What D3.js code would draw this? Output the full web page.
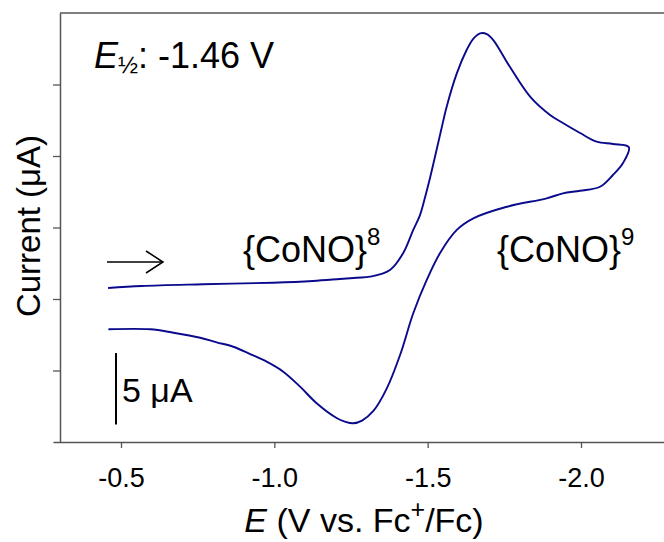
<!DOCTYPE html>
<html>
<head>
<meta charset="utf-8">
<script src="https://cdn.jsdelivr.net/npm/d3@7"></script>
<style>
  body { margin: 0; background: #fff; }
  svg { display: block; font-family: "Liberation Sans", Arial, Helvetica, sans-serif; }
</style>
</head>
<body>
<svg id="cv" width="664" height="542"></svg>
<script>
// forward scan, -0.46 V -> -2.16 V (V vs Fc+/Fc, current in uA)
const forwardE = [-0.458, -0.568, -0.767, -0.996, -1.126, -1.214, -1.269, -1.312, -1.377, -1.420,
    -1.453, -1.475, -1.490, -1.506, -1.529, -1.544, -1.562, -1.595, -1.627, -1.648, -1.671,
    -1.693, -1.714, -1.768, -1.834, -1.899, -1.941, -1.997, -2.051, -2.104, -2.156];
const forwardI = [0.77, 0.91, 1.03, 1.14, 1.26, 1.40, 1.49, 1.56, 2.03, 3.20,
    4.83, 5.87, 6.99, 8.32, 10.42, 11.82, 13.45, 15.78, 17.41, 18.18, 18.58,
    18.53, 18.11, 16.24, 14.15, 12.87, 12.31, 11.61, 11.00, 10.84, 10.61];
// reverse scan back to -0.46 V
const reverseE = [-2.137, -2.104, -2.062, -1.997, -1.941, -1.888, -1.758, -1.649, -1.595, -1.540,
    -1.497, -1.453, -1.410, -1.366, -1.323, -1.286, -1.257, -1.230, -1.203, -1.138,
    -1.084, -1.029, -0.975, -0.921, -0.866, -0.812, -0.758, -0.671, -0.595, -0.459];
const reverseI = [9.51, 8.67, 7.85, 7.57, 7.39, 7.04, 6.45, 5.64, 4.83, 3.20,
    1.33, -1.00, -3.92, -6.29, -7.83, -8.50, -8.69, -8.57, -8.32, -7.29,
    -6.13, -5.08, -4.38, -3.85, -3.34, -3.03, -2.71, -2.36, -2.12, -2.12];

const xTicks = [-0.5, -1.0, -1.5, -2.0];
const yTicks = [-5, 0, 5, 10, 15];

const svg = d3.select("#cv");
const font = "\"Liberation Sans\", Arial, Helvetica, sans-serif";

// potential axis runs to more negative values on the right
let x = d3.scaleLinear().domain([-0.5, -2.0]).range([121, 581]);
x = x.copy().domain([x.invert(53), x.invert(720)]).range([53, 720]);
const y = d3.scaleLinear().domain([-10, 20]).range([442, 13]);
const left = 60;

const axisColor = "#555";

// frame: top line
svg.append("line")
    .attr("x1", left).attr("x2", 720)
    .attr("y1", y(20)).attr("y2", y(20))
    .attr("stroke", axisColor).attr("stroke-width", 1.5);

const gx = svg.append("g")
    .attr("transform", "translate(0," + y(-10) + ")")
    .call(d3.axisBottom(x).tickValues(xTicks).tickSize(6).tickSizeOuter(0)
        .tickFormat(d => d.toFixed(1)));
gx.select(".domain").attr("stroke", axisColor).attr("stroke-width", 1.5);
gx.selectAll(".tick line").attr("stroke", axisColor).attr("stroke-width", 1.3);
gx.selectAll(".tick text")
    .attr("fill", "#000").attr("font-size", 27).attr("font-family", font)
    .attr("y", 45).attr("dy", 0);

const gy = svg.append("g")
    .attr("transform", "translate(" + left + ",0)")
    .call(d3.axisLeft(y).tickValues(yTicks).tickSize(7).tickSizeOuter(0).tickFormat(""));
gy.select(".domain").attr("stroke", axisColor).attr("stroke-width", 1.5);
gy.selectAll(".tick line").attr("stroke", axisColor).attr("stroke-width", 1.3);

// the voltammogram
const pts = forwardE.map((e, i) => [e, forwardI[i]])
    .concat(reverseE.map((e, i) => [e, reverseI[i]]));
const line = d3.line()
    .x(d => x(d[0]))
    .y(d => y(d[1]))
    .curve(d3.curveCatmullRom.alpha(0.5));
svg.append("path")
    .datum(pts)
    .attr("d", line)
    .attr("fill", "none")
    .attr("stroke", "#0a0a8c")
    .attr("stroke-width", 1.9)
    .attr("stroke-linejoin", "round");

// axis titles
svg.append("text")
    .attr("transform", "translate(40,226) rotate(-90)")
    .attr("text-anchor", "middle")
    .attr("font-size", 33)
    .text("Current (\u03bcA)");

const xl = svg.append("text")
    .attr("x", 364).attr("y", 532)
    .attr("text-anchor", "middle")
    .attr("font-size", 34);
xl.append("tspan").attr("font-style", "italic").text("E");
xl.append("tspan").text(" (V vs. Fc");
xl.append("tspan").attr("font-size", 25).attr("dy", -14).text("+");
xl.append("tspan").attr("dy", 14).text("/Fc)");

// half-wave potential
const eh = svg.append("text")
    .attr("x", 94).attr("y", 68)
    .attr("font-size", 36);
eh.append("tspan").attr("font-style", "italic").text("E");
eh.append("tspan").attr("font-size", 24).attr("dy", 5).text("\u00bd");
eh.append("tspan").attr("dy", -5).text(": -1.46 V");

// oxidation state labels
function label(xp, yp, sup) {
    const t = svg.append("text").attr("x", xp).attr("y", yp).attr("font-size", 36);
    t.append("tspan").text("{CoNO}");
    t.append("tspan").attr("font-size", 24).attr("dy", -17).text(sup);
}
label(243, 262, "8");
label(497, 262, "9");

// scan direction arrow
svg.append("line")
    .attr("x1", 107).attr("x2", 163)
    .attr("y1", 262).attr("y2", 262)
    .attr("stroke", "#000").attr("stroke-width", 1.5);
svg.append("path")
    .attr("d", "M146,251 L163,262 L146,273")
    .attr("fill", "none").attr("stroke", "#000").attr("stroke-width", 1.5);

// 5 uA scale bar
svg.append("line")
    .attr("x1", 116).attr("x2", 116)
    .attr("y1", 353).attr("y2", 353 + (y(0) - y(5)))
    .attr("stroke", "#000").attr("stroke-width", 2);
svg.append("text")
    .attr("x", 122).attr("y", 402)
    .attr("font-size", 34)
    .text("5 \u03bcA");
</script>
</body>
</html>
